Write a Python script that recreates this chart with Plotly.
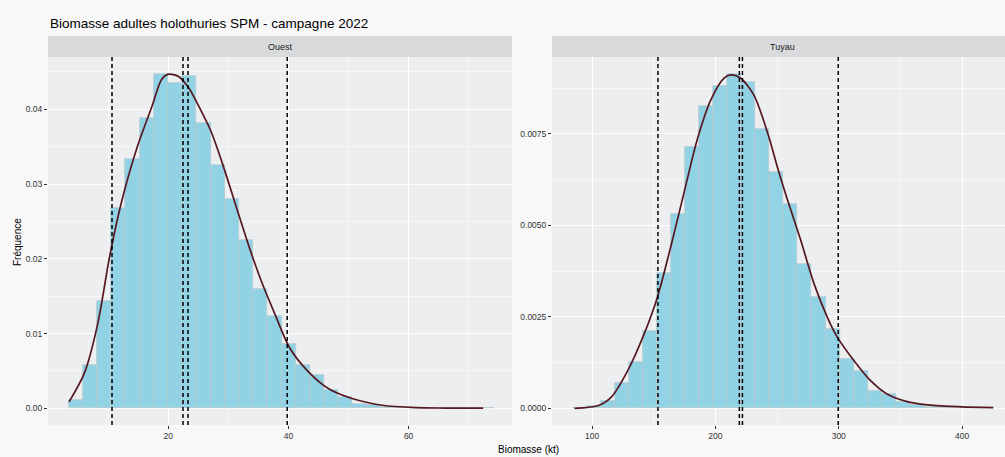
import plotly.graph_objects as go

W, H = 1005, 457

title = "Biomasse adultes holothuries SPM - campagne 2022"
facets = ["Ouest", "Tuyau"]
x_title = "Biomasse (kt)"
y_title = "Fréquence"

# --- Ouest (left facet) ---
ouest_bin_centers = [4.63, 6.99, 9.35, 11.71, 14.07, 16.43, 18.79, 21.15, 23.51, 25.87,
                     28.23, 30.59, 32.95, 35.31, 37.67, 40.03, 42.39, 44.75, 47.11, 49.47,
                     51.83, 54.19, 56.55, 58.91, 61.27, 63.63, 65.99, 68.35, 70.71, 73.07]
ouest_bin_width = 2.36
ouest_freq = [0.0011, 0.0058, 0.0144, 0.0268, 0.0334, 0.0388, 0.0447, 0.0435, 0.0445, 0.0382,
              0.0325, 0.0280, 0.0225, 0.0160, 0.0123, 0.0086, 0.0058, 0.0044, 0.0024, 0.0015,
              0.0006, 0.0004, 0.0002, 0.00015, 0.0001, 0.00005, 0.00004, 0.00002, 0.00001, 0.00001]
ouest_dens_x = [3.5, 6.05, 8.3, 10.25, 12.2, 14.7, 17.3, 18.9, 20.05, 21.7, 23.4, 25.1, 27.1,
                29.0, 31.3, 33.5, 35.5, 37.7, 40.2, 43.3, 46.7, 50.6, 55.6, 61.2, 66.0, 72.4]
ouest_dens_y = [0.00085, 0.0047, 0.0114, 0.0203, 0.0275, 0.0346, 0.0404, 0.0440, 0.0447, 0.0444,
                0.0429, 0.0404, 0.0371, 0.0328, 0.0270, 0.0215, 0.0170, 0.0127, 0.0081, 0.0049,
                0.0026, 0.0013, 0.0004, 0.00008, 0.00003, 0.00001]
ouest_vlines = [10.65, 22.46, 23.3, 39.8]
ouest_xticks = [20, 40, 60]
ouest_yticks = [0.00, 0.01, 0.02, 0.03, 0.04]
ouest_ytick_text = ["0.00", "0.01", "0.02", "0.03", "0.04"]

# --- Tuyau (right facet) ---
tuyau_bin_centers = [90.29, 101.66, 113.03, 124.40, 135.77, 147.14, 158.51, 169.88, 181.25, 192.62,
                     203.99, 215.36, 226.73, 238.10, 249.47, 260.84, 272.21, 283.58, 294.95, 306.32,
                     317.69, 329.06, 340.43, 351.80, 363.17, 374.54, 385.91, 397.28, 408.65, 420.02]
tuyau_bin_width = 11.37
tuyau_freq = [0.00001, 0.00005, 0.0002, 0.00068, 0.00126, 0.00212, 0.0037, 0.00531, 0.00714, 0.00827,
              0.0088, 0.00914, 0.00891, 0.00762, 0.00646, 0.00558, 0.00393, 0.00305, 0.00218, 0.00136,
              0.00103, 0.00048, 0.00039, 0.00016, 0.00008, 0.00004, 0.00002, 0.00001, 0.000005, 0.000003]
tuyau_dens_x = [85.7, 104.6, 115.4, 128.9, 142.3, 153.1, 163.9, 174.6, 185.5, 196.2, 207.0, 212.4,
                220.5, 231.2, 242.1, 251.5, 258.2, 269.0, 279.8, 290.6, 298.7, 312.1, 325.6,
                339.1, 358.0, 379.5, 400.0, 425.3]
tuyau_dens_y = [0.0, 0.00007, 0.0003, 0.00103, 0.00204, 0.00305, 0.00443, 0.0059, 0.00737, 0.00842,
                0.00902, 0.00911, 0.00902, 0.00856, 0.00755, 0.00645, 0.00572, 0.00461, 0.00342,
                0.0025, 0.00195, 0.00131, 0.00076, 0.00039, 0.00016, 0.00007, 0.00004, 0.00002]
tuyau_vlines = [153.4, 219.4, 221.9, 299.6]
tuyau_xticks = [100, 200, 300, 400]
tuyau_yticks = [0.0, 0.0025, 0.005, 0.0075]
tuyau_ytick_text = ["0.0000", "0.0025", "0.0050", "0.0075"]

# ---------- styling ----------
FONT = "Liberation Sans, Arial, sans-serif"
BAR_FILL = "#92d2e5"
BAR_LINE = "#b9c7cc"
DENS_COLOR = "#561820"
PANEL_BG = "#eceeef"
STRIP_BG = "#d9dadb"
TXT = "#333333"

def px_x(p):
    return p / W

def px_y(p):
    return 1 - p / H

panel_top, panel_bot = 57, 425
left_dom = [px_x(48), px_x(512)]
right_dom = [px_x(552), 1.0]
y_dom = [px_y(panel_bot), px_y(panel_top)]

fig = go.Figure()

fig.add_trace(go.Bar(x=ouest_bin_centers, y=ouest_freq, width=ouest_bin_width,
                     marker=dict(color=BAR_FILL, line=dict(color=BAR_LINE, width=0.7)),
                     xaxis="x", yaxis="y", showlegend=False))
fig.add_trace(go.Scatter(x=ouest_dens_x, y=ouest_dens_y, mode="lines",
                         line=dict(color=DENS_COLOR, width=1.7, shape="spline", smoothing=0.8),
                         xaxis="x", yaxis="y", showlegend=False))
fig.add_trace(go.Bar(x=tuyau_bin_centers, y=tuyau_freq, width=tuyau_bin_width,
                     marker=dict(color=BAR_FILL, line=dict(color=BAR_LINE, width=0.7)),
                     xaxis="x2", yaxis="y2", showlegend=False))
fig.add_trace(go.Scatter(x=tuyau_dens_x, y=tuyau_dens_y, mode="lines",
                         line=dict(color=DENS_COLOR, width=1.7, shape="spline", smoothing=0.8),
                         xaxis="x2", yaxis="y2", showlegend=False))

DASH = "4px,3px"
shapes = []
for v in ouest_vlines:
    shapes.append(dict(type="line", xref="x", yref="y domain", x0=v, x1=v, y0=0, y1=1,
                       line=dict(color="black", width=1.5, dash=DASH)))
for v in tuyau_vlines:
    shapes.append(dict(type="line", xref="x2", yref="y2 domain", x0=v, x1=v, y0=0, y1=1,
                       line=dict(color="black", width=1.5, dash=DASH)))
# facet strips
for dom in (left_dom, right_dom):
    shapes.append(dict(type="rect", xref="paper", yref="paper", x0=dom[0], x1=dom[1],
                       y0=px_y(57), y1=px_y(36), fillcolor=STRIP_BG, line=dict(width=0),
                       layer="below"))

annotations = [
    dict(text=title, xref="paper", yref="paper", x=px_x(48), y=px_y(23), xanchor="left",
         yanchor="middle", showarrow=False, font=dict(family=FONT, size=13.5, color="black")),
    dict(text=facets[0], xref="paper", yref="paper", x=(left_dom[0] + left_dom[1]) / 2,
         y=px_y(46.5), xanchor="center", yanchor="middle", showarrow=False,
         font=dict(family=FONT, size=9, color="#1a1a1a")),
    dict(text=facets[1], xref="paper", yref="paper", x=(right_dom[0] + px_x(1014)) / 2,
         y=px_y(46.5), xanchor="center", yanchor="middle", showarrow=False,
         font=dict(family=FONT, size=9, color="#1a1a1a")),
    dict(text=x_title, xref="paper", yref="paper", x=px_x(528), y=px_y(449),
         xanchor="center", yanchor="middle", showarrow=False,
         font=dict(family=FONT, size=10, color="black")),
    dict(text=y_title, xref="paper", yref="paper", x=px_x(17), y=px_y(242),
         xanchor="center", yanchor="middle", showarrow=False, textangle=-90,
         font=dict(family=FONT, size=10, color="black")),
]

axis_common = dict(showline=False, zeroline=False, showgrid=True, gridcolor="white",
                   gridwidth=1.1, ticks="outside", ticklen=3, tickcolor=TXT, tickwidth=1,
                   tickfont=dict(family=FONT, size=8.5, color=TXT))

fig.update_layout(
    width=W, height=H, autosize=False,
    margin=dict(l=0, r=0, t=0, b=0),
    paper_bgcolor="#f8f8f8", plot_bgcolor=PANEL_BG,
    bargap=0, barmode="overlay",
    shapes=shapes, annotations=annotations,
    xaxis=dict(domain=left_dom, anchor="y", range=[0.0, 77.2], tickvals=ouest_xticks,
               minor=dict(tickvals=[10, 30, 50, 70], showgrid=True, gridcolor="#f6f7f7",
                          gridwidth=0.6, ticks=""),
               **axis_common),
    yaxis=dict(domain=y_dom, anchor="x", range=[-0.00224, 0.0470], tickvals=ouest_yticks,
               ticktext=ouest_ytick_text,
               minor=dict(tickvals=[0.005, 0.015, 0.025, 0.035, 0.045], showgrid=True,
                          gridcolor="#f6f7f7", gridwidth=0.6, ticks=""),
               **axis_common),
    xaxis2=dict(domain=right_dom, anchor="y2", range=[67.5, 434.8], tickvals=tuyau_xticks,
                minor=dict(tickvals=[150, 250, 350], showgrid=True, gridcolor="#f6f7f7",
                           gridwidth=0.6, ticks=""),
                **axis_common),
    yaxis2=dict(domain=y_dom, anchor="x2", range=[-0.000457, 0.0096], tickvals=tuyau_yticks,
                ticktext=tuyau_ytick_text,
                minor=dict(tickvals=[0.00125, 0.00375, 0.00625, 0.00875], showgrid=True,
                           gridcolor="#f6f7f7", gridwidth=0.6, ticks=""),
                **axis_common),
)

fig.write_html("out.html")
